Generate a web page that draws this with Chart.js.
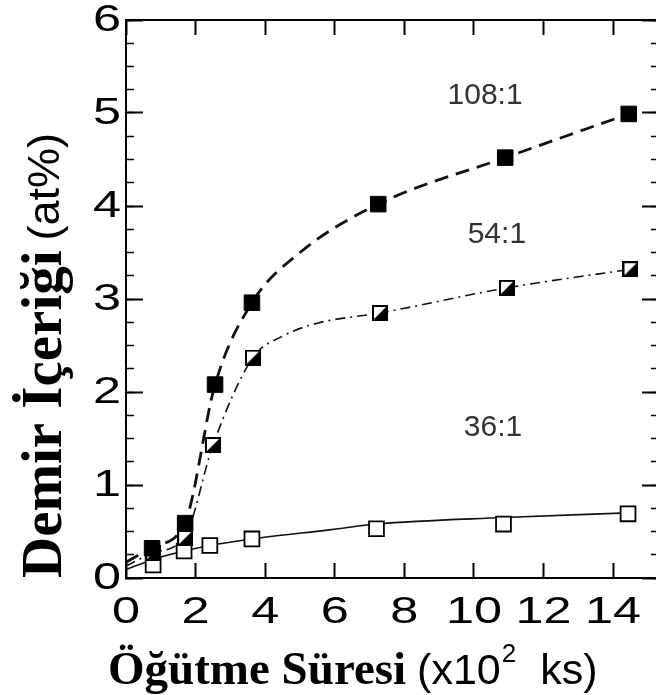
<!DOCTYPE html>
<html>
<head>
<meta charset="utf-8">
<script src="https://cdn.jsdelivr.net/npm/chart.js@4.4.1/dist/chart.umd.min.js"></script>
<style>
  html, body { margin: 0; padding: 0; overflow: hidden; background: #fff; }
  canvas { display: block; }
</style>
</head>
<body>
<canvas id="chart" width="662" height="695"></canvas>
<script>
// Milling time (x10^2 ks) vs iron content (at%) for three ball:powder ratios
const xTicks = [0, 2, 4, 6, 8, 10, 12, 14]
const yTicks = [0, 1, 2, 3, 4, 5, 6]

const time108 = [0.75, 1.7, 2.56, 3.62, 7.25, 10.9, 14.45]
const fe108 = [0.32, 0.59, 2.08, 2.96, 4.02, 4.52, 4.99]

const time54 = [0.78, 1.7, 2.5, 3.65, 7.3, 10.95, 14.5]
const fe54 = [0.27, 0.43, 1.43, 2.37, 2.85, 3.12, 3.32]

const time36 = [0.78, 1.67, 2.41, 3.62, 7.2, 10.85, 14.43]
const fe36 = [0.14, 0.29, 0.35, 0.42, 0.53, 0.58, 0.69]

// fitted trend curves as drawn in the figure
const fitTime108 = [0, 0.75, 1.7, 2.56, 3.62, 5.0, 7.25, 10.9, 14.45]
const fitFe108 = [0.17, 0.33, 0.6, 2.08, 2.96, 3.5, 4.02, 4.52, 4.99]

const fitTime54 = [0, 0.78, 1.7, 2.5, 3.65, 4.5, 5.5, 7.3, 10.95, 14.5]
const fitFe54 = [0.13, 0.27, 0.45, 1.43, 2.37, 2.6, 2.74, 2.85, 3.12, 3.32]

const fitTime36 = [0, 0.78, 1.67, 2.41, 3.62, 5.9, 7.2, 10.85, 14.43]
const fitFe36 = [0.09, 0.2, 0.29, 0.35, 0.42, 0.52, 0.58, 0.65, 0.7]

const ratioLabels = [
  { text: '108:1', x: 10.32, y: 5.19 },
  { text: '54:1', x: 10.66, y: 3.69 },
  { text: '36:1', x: 10.55, y: 1.62 }
]

const toPoints = (xs, ys) => xs.map((x, i) => ({ x: x, y: ys[i] }))

// linear scale whose tick labels are drawn wider, like the scanned figure
class StretchedScale extends Chart.LinearScale {
  static id = 'stretched'
  drawLabels(chartArea) {
    if (!this.options.ticks.display) return
    const ctx = this.ctx
    const stretch = this.options.ticks.stretch || 1
    const shift = this.options.ticks.shift || [0, 0]
    for (const item of this.getLabelItems(chartArea)) {
      const o = item.options
      ctx.save()
      ctx.translate(o.translation[0] + shift[0], o.translation[1] + shift[1])
      ctx.scale(stretch, 1)
      ctx.font = item.font.string
      ctx.fillStyle = o.color
      ctx.textAlign = o.textAlign
      ctx.textBaseline = o.textBaseline
      ctx.fillText(item.label, 0, item.textOffset)
      ctx.restore()
    }
  }
}
Chart.register(StretchedScale)

function halfFilledSquare(size) {
  let c = document.createElement('canvas')
  c.width = size
  c.height = size
  let g = c.getContext('2d')
  g.fillStyle = '#fff'
  g.fillRect(0, 0, size, size)
  g.fillStyle = '#000'
  g.beginPath()
  g.moveTo(size, 0)
  g.lineTo(size, size)
  g.lineTo(0, size)
  g.closePath()
  g.fill()
  g.lineWidth = 2
  g.strokeStyle = '#000'
  g.strokeRect(1, 1, size - 2, size - 2)
  return c
}

const textPlugin = {
  id: 'figureText',
  afterDraw(chart) {
    const { ctx, scales } = chart
    ctx.save()
    ctx.fillStyle = '#333'
    ctx.font = '30px "Liberation Sans"'
    ctx.textAlign = 'center'
    ctx.textBaseline = 'middle'
    for (const l of ratioLabels) {
      ctx.fillText(l.text, scales.x.getPixelForValue(l.x), scales.y.getPixelForValue(l.y))
    }
    ctx.restore()

    // y axis title
    ctx.save()
    ctx.fillStyle = '#000'
    ctx.textAlign = 'left'
    ctx.textBaseline = 'alphabetic'
    ctx.translate(61, 578)
    ctx.rotate(-Math.PI / 2)
    ctx.font = 'bold 57px "Liberation Serif"'
    ctx.fillText('Demir İçeriği', 0, 0)
    let w = ctx.measureText('Demir İçeriği').width + 10
    ctx.font = '45px "Liberation Sans"'
    ctx.fillText('(at%)', w, -2)
    ctx.restore()

    // x axis title
    ctx.save()
    ctx.fillStyle = '#000'
    ctx.textAlign = 'left'
    ctx.textBaseline = 'alphabetic'
    let x = 108
    ctx.font = 'bold 47px "Liberation Serif"'
    ctx.fillText('Öğütme Süresi', x, 684)
    x += ctx.measureText('Öğütme Süresi').width + 11
    ctx.font = '43px "Liberation Sans"'
    ctx.fillText('(x10', x, 684)
    x += ctx.measureText('(x10').width + 1
    ctx.font = '26px "Liberation Sans"'
    ctx.fillText('2', x, 662)
    x += ctx.measureText('2').width + 24
    ctx.font = '43px "Liberation Sans"'
    ctx.fillText('ks)', x, 684)
    ctx.restore()
  }
}

const tickFont = { family: 'Liberation Sans', size: 36, lineHeight: 1 }
const axisGrid = (len, width) => ({ drawOnChartArea: false, tickLength: len, tickWidth: width, tickColor: '#000' })

new Chart(document.getElementById('chart'), {
  type: 'scatter',
  data: {
    datasets: [{
      label: ratioLabels[0].text,
      data: toPoints(time108, fe108),
      pointStyle: 'rect',
      pointRadius: 11,
      pointBackgroundColor: '#000',
      pointBorderColor: '#000',
      pointBorderWidth: 1,
      order: 0
    }, {
      label: ratioLabels[1].text,
      data: toPoints(time54, fe54),
      pointStyle: halfFilledSquare(16),
      order: 0
    }, {
      label: ratioLabels[2].text,
      data: toPoints(time36, fe36),
      pointStyle: 'rect',
      pointRadius: 10.5,
      pointBackgroundColor: '#fff',
      pointBorderColor: '#000',
      pointBorderWidth: 1.8,
      order: 0
    }, {
      label: 'fit 108:1',
      data: toPoints(fitTime108, fitFe108),
      showLine: true,
      pointRadius: 0,
      borderColor: '#111',
      borderWidth: 2.8,
      borderDash: [14, 8],
      cubicInterpolationMode: 'monotone',
      order: 1
    }, {
      label: 'fit 54:1',
      data: toPoints(fitTime54, fitFe54),
      showLine: true,
      pointRadius: 0,
      borderColor: '#111',
      borderWidth: 1.6,
      borderDash: [10, 5, 2, 5],
      cubicInterpolationMode: 'monotone',
      order: 1
    }, {
      label: 'fit 36:1',
      data: toPoints(fitTime36, fitFe36),
      showLine: true,
      pointRadius: 0,
      borderColor: '#111',
      borderWidth: 1.6,
      cubicInterpolationMode: 'monotone',
      order: 1
    }]
  },
  plugins: [textPlugin],
  options: {
    responsive: false,
    animation: false,
    layout: { padding: 0, autoPadding: false },
    plugins: {
      legend: { display: false },
      tooltip: { enabled: false }
    },
    scales: {
      x: {
        type: 'stretched',
        position: 'bottom',
        min: 0,
        max: 15.32,
        afterBuildTicks: s => { s.ticks = xTicks.map(v => ({ value: v })) },
        afterFit: s => { s.height = 117 },
        border: { color: '#000', width: 2 },
        grid: axisGrid(-15, 2),
        ticks: { font: tickFont, color: '#000', padding: 0, shift: [0, 32], autoSkip: false, maxRotation: 0, stretch: 1.4 }
      },
      xTop: {
        type: 'linear',
        position: 'top',
        min: 0,
        max: 15.32,
        afterBuildTicks: s => { s.ticks = xTicks.map(v => ({ value: v })) },
        afterFit: s => { s.height = 20 },
        border: { color: '#000', width: 2 },
        grid: axisGrid(-15, 2),
        ticks: { display: false }
      },
      y: {
        type: 'stretched',
        position: 'left',
        weight: 1,
        min: 0,
        max: 6,
        afterBuildTicks: s => { s.ticks = yTicks.map(v => ({ value: v })) },
        afterFit: s => { s.width = 126 },
        border: { color: '#000', width: 2 },
        grid: axisGrid(-17, 2),
        ticks: { font: tickFont, color: '#000', padding: 0, shift: [-22, 1], stretch: 1.4 }
      },
      yMinor: {
        type: 'linear',
        position: 'left',
        weight: 0,
        min: 0,
        max: 6,
        afterFit: s => { s.width = 0 },
        border: { display: false },
        grid: axisGrid(-8, 1.5),
        ticks: { display: false, stepSize: 0.25 }
      },
      yRight: {
        type: 'linear',
        position: 'right',
        weight: 1,
        min: 0,
        max: 6,
        afterBuildTicks: s => { s.ticks = yTicks.map(v => ({ value: v })) },
        afterFit: s => { s.width = 3 },
        border: { display: false },
        grid: axisGrid(-17, 2),
        ticks: { display: false }
      },
      yRightMinor: {
        type: 'linear',
        position: 'right',
        weight: 0,
        min: 0,
        max: 6,
        afterFit: s => { s.width = 0 },
        border: { display: false },
        grid: axisGrid(-8, 1.5),
        ticks: { display: false, stepSize: 0.25 }
      }
    }
  }
})
</script>
</body>
</html>
